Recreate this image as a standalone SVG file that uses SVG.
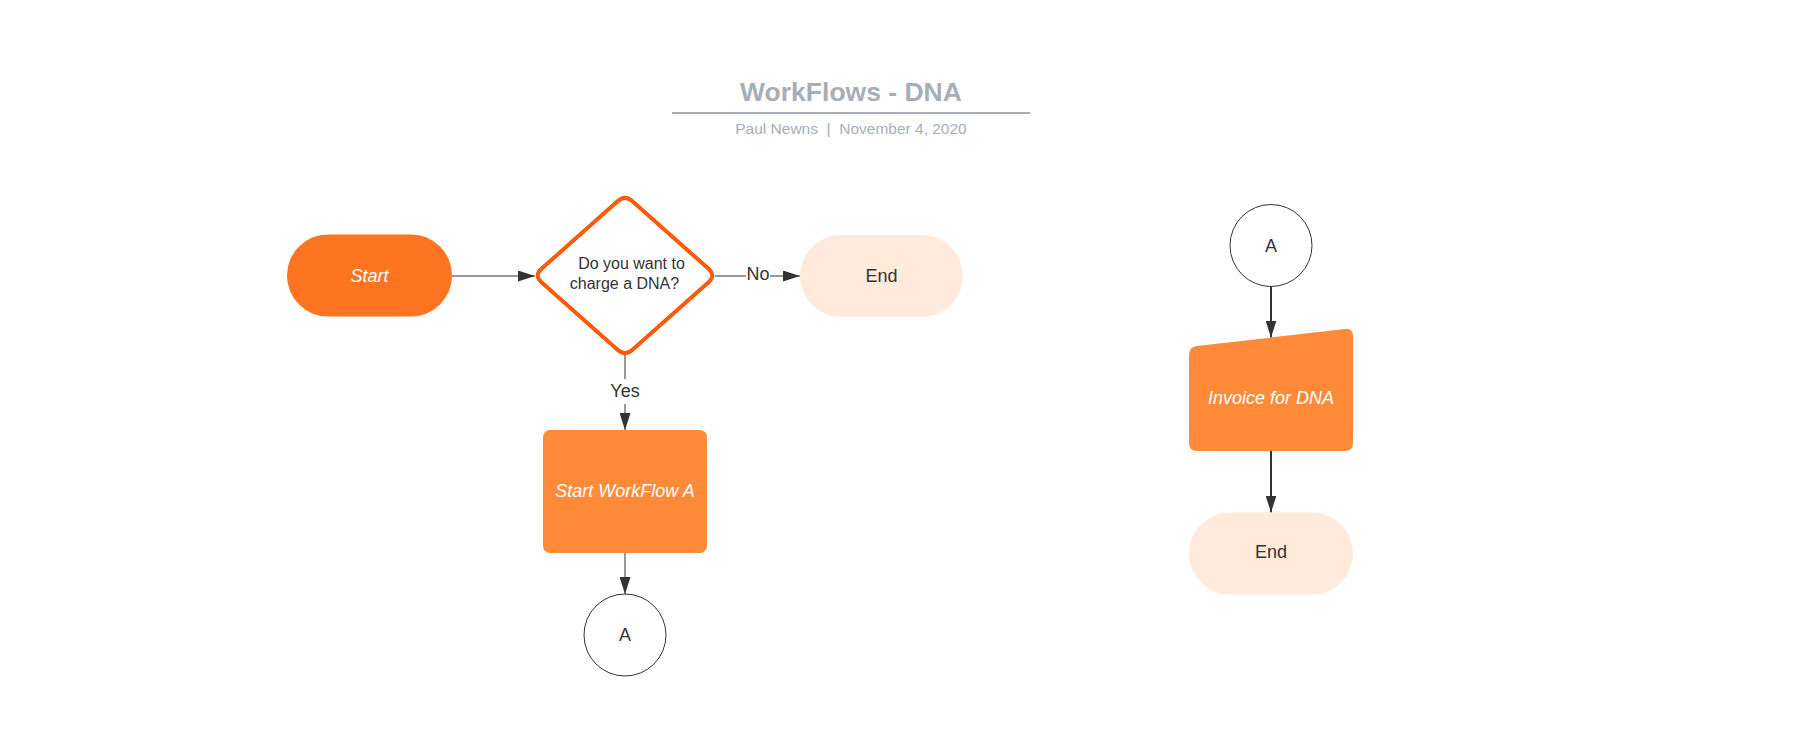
<svg xmlns="http://www.w3.org/2000/svg" width="1804" height="737" viewBox="0 0 1804 737">
<style>
text{font-family:"Liberation Sans",Arial,sans-serif;}
.lbl{font-size:18px;fill:#333333;text-anchor:middle;}
.wlbl{font-size:18px;fill:#ffffff;text-anchor:middle;font-style:italic;}
.edge{stroke:#333333;stroke-width:1;fill:none;}
.edge2{stroke:#333333;stroke-width:2;fill:none;}
.term{fill:#FFEADC;}
.proc{fill:#FF8B3A;}
.conn{fill:#ffffff;stroke:#333333;stroke-width:1;}
</style>
<defs>
<marker id="arr" markerUnits="userSpaceOnUse" markerWidth="17" markerHeight="11" refX="17" refY="5.5" orient="auto">
<path d="M0,0 L17,5.5 L0,11 Z" fill="#333333"/>
</marker>
</defs>
<rect width="1804" height="737" fill="#ffffff"/>
<g id="title">
<text x="851" y="101" text-anchor="middle" font-size="26.5" font-weight="bold" fill="#A8AEB6">WorkFlows - DNA</text>
<line x1="672" y1="113" x2="1030" y2="113" stroke="#A8AEB6" stroke-width="2"/>
<text x="851" y="134" text-anchor="middle" font-size="15.5" fill="#A8AEB6" xml:space="preserve">Paul Newns  |  November 4, 2020</text>
</g>
<g id="connectors">
<line class="edge" x1="452" y1="276" x2="535" y2="276" marker-end="url(#arr)"/>
<line class="edge" x1="715" y1="276" x2="800" y2="276" marker-end="url(#arr)"/>
<rect x="746" y="264" width="24" height="22" fill="#ffffff"/>
<text class="lbl" x="758" y="280">No</text>
<line class="edge" x1="625" y1="355" x2="625" y2="430" marker-end="url(#arr)"/>
<rect x="609" y="379" width="32" height="25" fill="#ffffff"/>
<text class="lbl" x="625" y="397">Yes</text>
<line class="edge" x1="625" y1="553" x2="625" y2="594" marker-end="url(#arr)"/>
<line class="edge2" x1="1271" y1="287" x2="1271" y2="337.5" marker-end="url(#arr)"/>
<line class="edge2" x1="1271" y1="451" x2="1271" y2="512.5" marker-end="url(#arr)"/>
</g>
<g id="start">
<rect x="287" y="234.5" width="165" height="82" rx="41" fill="#FF7420"/>
<text class="wlbl" x="369.5" y="282">Start</text>
</g>
<g id="decision">
<path d="M541.45,268.83 L617.55,201.17 Q625,194.5 632.45,201.17 L708.55,268.83 Q716,275.5 708.55,282.17 L632.45,349.83 Q625,356.5 617.55,349.83 L541.45,282.17 Q534,275.5 541.45,268.83 Z" fill="#ffffff" stroke="#FF5A0A" stroke-width="4" stroke-linejoin="round"/>
<text x="631.5" y="269" text-anchor="middle" font-size="16" fill="#333333">Do you want to</text>
<text x="624.5" y="289" text-anchor="middle" font-size="16" fill="#333333">charge a DNA?</text>
</g>
<g id="end1">
<rect class="term" x="800" y="235" width="163" height="82" rx="41"/>
<text class="lbl" x="881.5" y="282">End</text>
</g>
<g id="workflowA">
<rect class="proc" x="543" y="430" width="164" height="123" rx="7"/>
<text class="wlbl" x="625" y="497">Start WorkFlow A</text>
</g>
<g id="connectorA1">
<circle class="conn" cx="625" cy="635" r="41"/>
<text class="lbl" x="625" y="641">A</text>
</g>
<g id="connectorA2">
<circle class="conn" cx="1271" cy="245.5" r="41"/>
<text class="lbl" x="1271" y="251.5">A</text>
</g>
<g id="invoice">
<path class="proc" d="M1197,346.1 L1345,328.9 Q1353,328 1353,336 L1353,443 Q1353,451 1345,451 L1197,451 Q1189,451 1189,443 L1189,355 Q1189,347 1197,346.1 Z"/>
<text class="wlbl" x="1271" y="403.5">Invoice for DNA</text>
</g>
<g id="end2">
<rect class="term" x="1189" y="512.5" width="164" height="82" rx="41"/>
<text class="lbl" x="1271" y="558">End</text>
</g>
</svg>
